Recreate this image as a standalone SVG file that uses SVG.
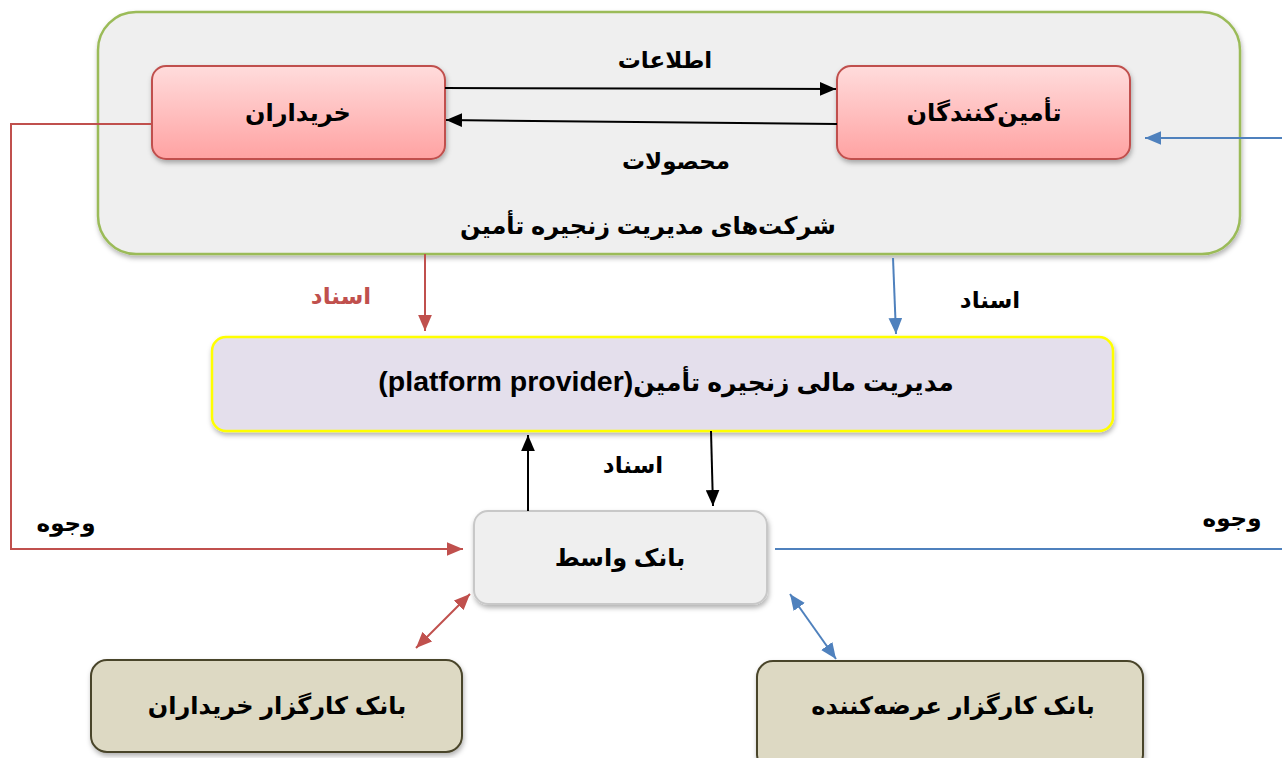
<svg xmlns="http://www.w3.org/2000/svg" width="1282" height="758" viewBox="0 0 1282 758">
<style>
text{font-family:"Liberation Sans","DejaVu Sans",sans-serif;font-weight:bold;fill:#000;text-anchor:middle;direction:rtl}
.lbl{font-size:23px}
.nt{font-size:24px}
.big{font-size:25px}
.lat{font-size:28.5px}
.red{fill:#c0504d}
.ln{fill:none;stroke-width:2}
.k{stroke:#000}
.r{stroke:#c0504d}
.b{stroke:#4f81bd}
</style>
<defs>
<linearGradient id="pink" x1="0" y1="0" x2="0" y2="1">
<stop offset="0" stop-color="#ffdcdc"/>
<stop offset="1" stop-color="#ffa2a2"/>
</linearGradient>
<filter id="sh" x="-10%" y="-10%" width="120%" height="130%">
<feDropShadow dx="1" dy="3" stdDeviation="2.5" flood-color="#000" flood-opacity="0.3"/>
</filter>
<marker id="ak" viewBox="0 0 14 12" refX="14" refY="6" markerWidth="16" markerHeight="14" markerUnits="userSpaceOnUse" orient="auto-start-reverse"><path d="M0,0L14,6L0,12z" fill="#000"/></marker>
<marker id="ar" viewBox="0 0 14 12" refX="14" refY="6" markerWidth="16" markerHeight="14" markerUnits="userSpaceOnUse" orient="auto-start-reverse"><path d="M0,0L14,6L0,12z" fill="#c0504d"/></marker>
<marker id="ab" viewBox="0 0 14 12" refX="14" refY="6" markerWidth="16" markerHeight="14" markerUnits="userSpaceOnUse" orient="auto-start-reverse"><path d="M0,0L14,6L0,12z" fill="#4f81bd"/></marker>
</defs>
<rect width="1282" height="758" fill="#fff"/>

<g id="container">
<rect x="98" y="12" width="1142" height="242" rx="38" fill="#efefef" stroke="#9bbb59" stroke-width="2.5" filter="url(#sh)"/>
<text x="648" y="234" class="nt">شرکت‌های مدیریت زنجیره تأمین</text>
</g>

<g id="buyers">
<rect x="152" y="66" width="293" height="93" rx="14" fill="url(#pink)" stroke="#c0504d" stroke-width="2" filter="url(#sh)"/>
<text x="298" y="121" class="nt">خریداران</text>
</g>

<g id="suppliers">
<rect x="837" y="66" width="293" height="93" rx="14" fill="url(#pink)" stroke="#c0504d" stroke-width="2" filter="url(#sh)"/>
<text x="984" y="121" class="nt">تأمین‌کنندگان</text>
</g>

<g id="platform">
<rect x="212" y="337" width="901" height="94" rx="14" fill="#e4dfec" stroke="#ffff00" stroke-width="2.5" filter="url(#sh)"/>
<text x="666" y="391" class="big">مدیریت مالی زنجیره تأمین<tspan class="lat">(platform provider)</tspan></text>
</g>

<g id="intermediary-bank">
<rect x="474" y="511" width="293" height="93" rx="14" fill="#efefef" stroke="#c8c8c8" stroke-width="2" filter="url(#sh)"/>
<text x="620" y="566" class="nt">بانک واسط</text>
</g>

<g id="buyers-bank">
<rect x="91" y="660" width="371" height="92" rx="16" fill="#ddd9c3" stroke="#4a452a" stroke-width="2" filter="url(#sh)"/>
<text x="277" y="714" class="nt">بانک کارگزار خریداران</text>
</g>

<g id="suppliers-bank">
<rect x="757" y="661" width="386" height="110" rx="16" fill="#ddd9c3" stroke="#4a452a" stroke-width="2" filter="url(#sh)"/>
<text x="953" y="714" class="nt">بانک کارگزار عرضه‌کننده</text>
</g>

<g id="connectors">
<line x1="445" y1="88" x2="836" y2="89" class="ln k" marker-end="url(#ak)"/>
<line x1="837" y1="124" x2="446" y2="120" class="ln k" marker-end="url(#ak)"/>
<line x1="1282" y1="138" x2="1145" y2="138" class="ln b" marker-end="url(#ab)"/>
<polyline points="152,124 11,124 11,549 463,549" class="ln r" marker-end="url(#ar)"/>
<line x1="425" y1="254" x2="425" y2="331" class="ln r" marker-end="url(#ar)"/>
<line x1="893" y1="258" x2="896" y2="334" class="ln b" marker-end="url(#ab)"/>
<line x1="528" y1="511" x2="528" y2="435" class="ln k" marker-end="url(#ak)"/>
<line x1="711" y1="431" x2="713" y2="506" class="ln k" marker-end="url(#ak)"/>
<line x1="775" y1="549" x2="1282" y2="549" class="ln b"/>
<line x1="416" y1="648" x2="470" y2="594" class="ln r" marker-start="url(#ar)" marker-end="url(#ar)"/>
<line x1="836" y1="659" x2="790" y2="594" class="ln b" marker-start="url(#ab)" marker-end="url(#ab)"/>
<text x="665" y="68" class="lbl">اطلاعات</text>
<text x="676" y="169" class="lbl">محصولات</text>
<text x="341" y="304" class="lbl red">اسناد</text>
<text x="990" y="308" class="lbl">اسناد</text>
<text x="633" y="473" class="lbl">اسناد</text>
<text x="66" y="531" class="lbl">وجوه</text>
<text x="1232" y="526" class="lbl">وجوه</text>
</g>
</svg>
